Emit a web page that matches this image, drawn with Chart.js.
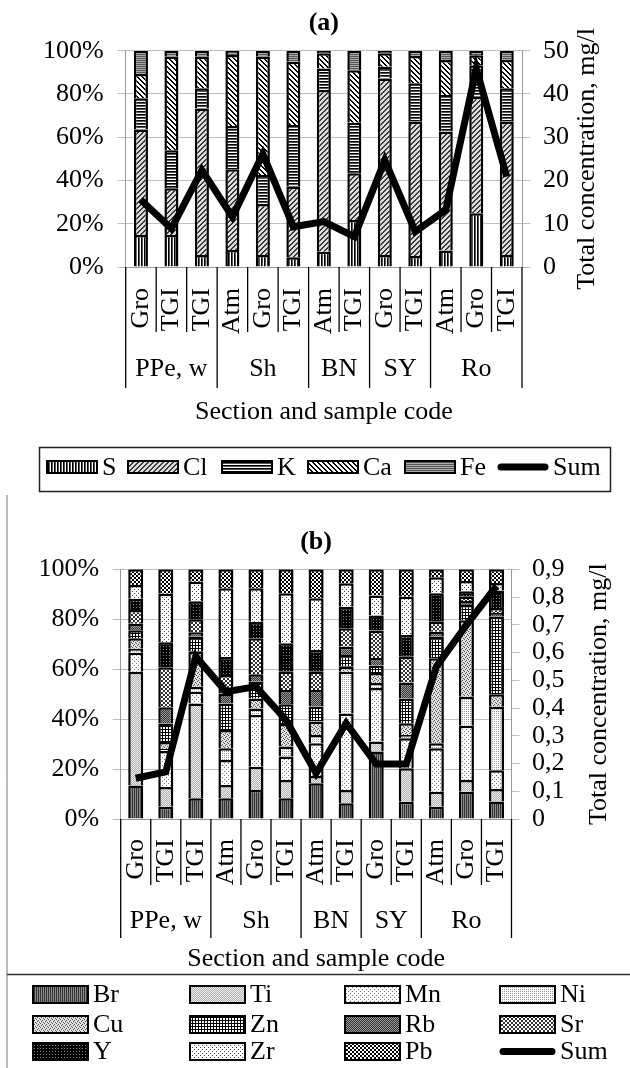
<!DOCTYPE html>
<html><head><meta charset="utf-8">
<script src="https://cdn.jsdelivr.net/npm/chart.js@4.4.1/dist/chart.umd.min.js"></script>
<style>
html,body{margin:0;padding:0;background:#fff;}
#wrap{position:relative;width:630px;height:1068px;background:#fff;}
canvas{position:absolute;left:0;}
</style></head><body>
<div id="wrap">
<canvas id="ca" width="630" height="495" style="top:0"></canvas>
<canvas id="cb" width="630" height="573" style="top:495px"></canvas>
</div>
<script>
// ---------- categories ----------
const sampleCodes = ['Gro','TGI','TGI','Atm','Gro','TGI','Atm','TGI','Gro','TGI','Atm','Gro','TGI'];
const sectionLabels = ['PPe, w','Sh','BN','SY','Ro'];
const sectionSizes = [3,3,2,2,3];

// ---------- panel (a): shares, % ----------
const S_  = [14.8,14.8, 5.5, 7.9, 5.5, 4.5, 7.1,21.7, 5.5, 5.1, 7.6,24.8, 5.5];
const Cl_ = [48.8,21.6,67.8,37.3,23.6,32.6,74.7,21.6,81.7,62.1,55.0,53.9,61.6];
const K_  = [14.4,17.6, 9.3,20.0,13.4,28.5,10.0,23.4, 5.4,17.7,16.9,14.6,15.5];
const Ca_ = [11.2,43.2,14.6,32.8,54.7,29.3, 7.0,24.3, 6.2,12.6,16.2, 4.6,13.1];
const Fe_ = [10.8, 2.8, 2.8, 2.0, 2.8, 5.1, 1.2, 9.0, 1.2, 2.5, 4.3, 2.1, 4.3];
const sumA = [15.5, 8.9,22.4,11.6,26.1, 9.3,10.5, 7.0,24.7, 8.2,13.2,45.9,20.9]; // mg/l

// ---------- panel (b): shares, % ----------
const Br_ = [13.4, 4.9, 8.3, 8.3,11.6, 8.3,14.3, 6.3,27.0, 6.9, 4.9,10.9, 7.0];
const Ti_ = [45.6, 7.9,38.0, 5.3, 9.3, 7.3, 2.9, 5.3, 4.0,13.4, 6.0, 4.7, 5.0];
const Mn_ = [ 7.6,14.4, 4.7,10.0,20.7, 9.4,13.1,30.7,21.5,12.0,17.4,21.7, 7.5];
const Ni_ = [ 1.6, 0.8, 2.0, 4.7, 2.7, 4.0, 3.3,16.7, 2.0, 1.3, 2.0,11.7,25.5];
const Cu_ = [ 4.2, 2.8,14.0, 7.3, 4.0, 9.0, 5.4, 2.0, 4.0, 4.7,34.1,30.6, 5.0];
const Zn_ = [ 3.2, 7.4, 6.0,10.7, 6.7, 8.0, 6.1, 4.7, 3.0,10.0, 8.6, 6.1,31.0];
const Rb_ = [ 2.6, 6.6, 1.8, 4.0, 3.0, 5.7, 6.6, 3.3, 3.0, 6.4, 2.0, 1.6, 1.5];
const Sr_ = [ 5.5,16.0, 5.2, 7.4,14.4, 7.3, 7.3, 7.4,11.0,10.3, 4.0, 1.7, 2.0];
const Y_  = [ 4.5,10.0, 7.2, 7.2, 6.6,11.4, 8.7, 8.6, 6.0, 8.7,11.4, 2.2, 7.0];
const Zr_ = [ 5.5,19.4, 7.8,27.5,13.4,20.0,20.7, 9.4, 8.0,15.3, 6.4, 4.1, 3.0];
const Pb_ = [ 6.3, 9.8, 5.0, 7.6, 7.6, 9.6,11.6, 5.6,10.5,11.0, 3.2, 4.7, 5.5];
const sumB = [0.147,0.17,0.585,0.459,0.477,0.357,0.165,0.345,0.198,0.198,0.549,0.699,0.84]; // mg/l

const FONT = "'Liberation Serif','Times New Roman',serif";
Chart.defaults.font.family = FONT;
Chart.defaults.color = '#000';

// ---------- patterns ----------
function mk(w,h,bg,pix){
  const c=document.createElement('canvas'); c.width=w; c.height=h;
  const g=c.getContext('2d'); g.fillStyle=bg; g.fillRect(0,0,w,h);
  pix.forEach(p=>{g.fillStyle=p[2]; g.fillRect(p[0],p[1],1,1);});
  return g.createPattern(c,'repeat');
}
function diag(n, fwd, col){ const a=[]; for(let i=0;i<n;i++){ const y = fwd? n-1-i : i; a.push([i,y,col]); a.push([(i+1)%n,y,col]); } return a; }
const P = {
  S: mk(3,1,'#fff',[[0,0,'#000'],[1,0,'#555']]),
  Cl: mk(5,5,'#dcdcdc',diag(5,true,'#3a3a3a')),
  K: mk(1,3,'#fff',[[0,0,'#000'],[0,1,'#555']]),
  Ca: mk(5,5,'#fff',diag(5,false,'#000')),
  Fe: mk(1,2,'#aaa',[[0,0,'#555']]),
  Br: mk(2,1,'#888',[[0,0,'#333']]),
  Ti: mk(2,2,'#eee',[[0,0,'#b0b0b0'],[1,1,'#b0b0b0']]),
  Mn: mk(4,4,'#fff',[[0,0,'#777'],[2,2,'#777']]),
  Ni: mk(2,2,'#fff',[[0,0,'#9a9a9a']]),
  Cu: mk(4,4,'#e0e0e0',[[0,0,'#555'],[2,1,'#555'],[1,2,'#555'],[3,3,'#555']]),
  Zn: mk(3,3,'#fff',[[0,0,'#000'],[1,0,'#000'],[2,0,'#000'],[0,1,'#000'],[0,2,'#000']]),
  Rb: mk(2,2,'#999',[[0,0,'#333'],[1,1,'#333']]),
  Sr: mk(4,4,'#fff',[[0,0,'#333'],[1,1,'#333'],[2,2,'#333'],[3,3,'#333'],[0,3,'#333'],[1,2,'#333'],[2,1,'#333'],[3,0,'#333']]),
  Y: mk(3,3,'#000',[[1,1,'#888']]),
  Zr: mk(4,4,'#fff',[[0,0,'#444'],[2,2,'#444']]),
  Pb: mk(4,4,'#fff',[[0,0,'#000'],[1,0,'#000'],[0,1,'#000'],[1,1,'#000'],[2,2,'#000'],[3,2,'#000'],[2,3,'#000'],[3,3,'#000']])
};

function barDs(label, data, bp){
  return {type:'bar', label, data, backgroundColor:P[label], borderColor:'#000', borderWidth:2.5,
          borderSkipped:'start', yAxisID:'y', order:1, barPercentage:bp, categoryPercentage:1};
}
function lineDs(data){
  return {type:'line', label:'Sum', data, yAxisID:'y1', borderColor:'#000', borderWidth:7,
          pointRadius:0, fill:false, tension:0, order:0, borderJoinStyle:'miter', borderCapStyle:'butt'};
}

// ---------- custom axis / legend plugin ----------
const decor = {
  id:'decor',
  afterDraw(chart, args, o){
    const ctx=chart.ctx, xs=chart.scales.x, n=sampleCodes.length, y0=xs.top;
    const b=[];
    for(let i=0;i<=n;i++){
      if(i===0) b.push(xs.left); else if(i===n) b.push(xs.right);
      else b.push((xs.getPixelForValue(i-1)+xs.getPixelForValue(i))/2);
    }
    const gs=new Set([0]); let k=0; sectionSizes.forEach(s=>{k+=s; gs.add(k);});
    ctx.save();
    ctx.strokeStyle='#000'; ctx.lineWidth=1.3;
    b.forEach((bx,i)=>{ ctx.beginPath(); ctx.moveTo(bx,y0); ctx.lineTo(bx,y0+(gs.has(i)?o.longEnd:o.shortEnd)); ctx.stroke(); });
    ctx.fillStyle='#000'; ctx.font='26px '+FONT;
    sampleCodes.forEach((c,i)=>{
      ctx.save(); ctx.translate(xs.getPixelForValue(i), y0+o.labelTop); ctx.rotate(-Math.PI/2);
      ctx.textAlign='right'; ctx.textBaseline='middle'; ctx.fillText(c,0,0); ctx.restore();
    });
    ctx.textAlign='center'; ctx.textBaseline='middle';
    k=0; sectionLabels.forEach((g,j)=>{ const a=b[k], e=b[k+sectionSizes[j]]; k+=sectionSizes[j]; ctx.fillText(g,(a+e)/2,y0+o.groupY); });
    ctx.fillText('Section and sample code',(xs.left+xs.right)/2,y0+o.titleY);
    // right axis title
    ctx.save(); ctx.translate(o.rtX, (chart.chartArea.top+chart.chartArea.bottom)/2); ctx.rotate(-Math.PI/2);
    ctx.fillText('Total concentration, mg/l',0,0); ctx.restore();
    // panel title
    ctx.font='bold 26px '+FONT;
    ctx.fillText(o.title,(xs.left+xs.right)/2,o.titleTop);
    // frame lines
    (o.frame||[]).forEach(l=>{ ctx.strokeStyle=l[4]; ctx.lineWidth=l[5]; ctx.beginPath(); ctx.moveTo(l[0],l[1]); ctx.lineTo(l[2],l[3]); ctx.stroke(); });
    if(o.box){ ctx.strokeStyle='#222'; ctx.lineWidth=1.5; ctx.strokeRect(o.box[0],o.box[1],o.box[2],o.box[3]); }
    // legend items
    ctx.font='26px '+FONT; ctx.textAlign='left'; ctx.textBaseline='middle';
    const ds=chart.data.datasets;
    o.items.forEach((it,i)=>{
      const d=ds[i];
      if(d.type==='line'){
        ctx.strokeStyle='#000'; ctx.lineWidth=7; ctx.lineCap='round';
        ctx.beginPath(); ctx.moveTo(it[0]+3,it[1]); ctx.lineTo(it[0]+o.sw-3,it[1]); ctx.stroke(); ctx.lineCap='butt';
      } else {
        ctx.fillStyle=d.backgroundColor; ctx.fillRect(it[0],it[1]-o.sh/2,o.sw,o.sh);
        ctx.strokeStyle='#000'; ctx.lineWidth=2; ctx.strokeRect(it[0],it[1]-o.sh/2,o.sw,o.sh);
      }
      ctx.fillStyle='#000'; ctx.fillText(d.label,it[0]+o.sw+5,it[1]+1);
    });
    ctx.restore();
  }
};

function makeChart(id, datasets, yMax1, step1, fmt1, dims, deco){
  return new Chart(document.getElementById(id), {
    data:{labels:sampleCodes, datasets},
    options:{
      responsive:false, animation:false, devicePixelRatio:1,
      layout:{padding:{top:dims.top,left:0,right:0,bottom:0}},
      plugins:{legend:{display:false}, tooltip:{enabled:false}, decor:deco},
      scales:{
        x:{stacked:true, ticks:{display:false}, grid:{display:false}, border:{color:'#999'},
           afterFit:s=>{s.height=dims.xh;}},
        y:{position:'left', stacked:true, min:0, max:100,
           ticks:{stepSize:20, autoSkip:false, callback:v=>v+'%', font:{size:26}, color:'#000', padding:dims.lp},
           grid:{color:'#c0c0c0', tickLength:8, lineWidth:1}, border:{color:'#999'},
           afterFit:s=>{s.width=dims.lw;}},
        y1:{position:'right', min:0, max:yMax1,
           ticks:{stepSize:step1, autoSkip:false, callback:fmt1, font:{size:26}, color:'#000', padding:dims.rp},
           grid:{drawOnChartArea:false, color:'#c0c0c0', tickLength:8}, border:{color:'#999'},
           afterFit:s=>{s.width=dims.rw;}}
      }
    },
    plugins:[decor]
  });
}

// panel (a)
const dsA = [barDs('S',S_,0.46), barDs('Cl',Cl_,0.46), barDs('K',K_,0.46), barDs('Ca',Ca_,0.46), barDs('Fe',Fe_,0.46), lineDs(sumA)];
makeChart('ca', dsA, 50, 10, v=>String(v),
  {top:50.7, xh:228, lw:125.7, rw:108, lp:14, rp:13},
  {labelTop:21, shortEnd:65, longEnd:121, groupY:102, titleY:145, rtX:587, title:'(a)', titleTop:23,
   box:[39.5,447.5,571,44], sw:50, sh:12,
   items:[[47,467],[128,467],[222,467],[308,467],[405,467],[498,467]]});

// panel (b)
const dsB = [barDs('Br',Br_,0.5), barDs('Ti',Ti_,0.5), barDs('Mn',Mn_,0.5), barDs('Ni',Ni_,0.5),
             barDs('Cu',Cu_,0.5), barDs('Zn',Zn_,0.5), barDs('Rb',Rb_,0.5), barDs('Sr',Sr_,0.5),
             barDs('Y',Y_,0.5), barDs('Zr',Zr_,0.5), barDs('Pb',Pb_,0.5), lineDs(sumB)];
const bx=[33,190,345,500], by=[499.5,529.5,556.5];
makeChart('cb', dsB, 0.9, 0.1, v=> v===0 ? '0' : v.toFixed(1).replace('.',','),
  {top:74.3, xh:249, lw:120.7, rw:118.5, lp:13.5, rp:12.5},
  {labelTop:20, shortEnd:66, longEnd:119, groupY:102, titleY:140, rtX:599, title:'(b)', titleTop:47,
   frame:[[7,0,7,573,'#777',1],[7,479.5,630,479.5,'#333',1.5]], sw:55, sh:17,
   items:[[bx[0],by[0]],[bx[1],by[0]],[bx[2],by[0]],[bx[3],by[0]],
          [bx[0],by[1]],[bx[1],by[1]],[bx[2],by[1]],[bx[3],by[1]],
          [bx[0],by[2]],[bx[1],by[2]],[bx[2],by[2]],[bx[3],by[2]]]});
</script>
</body></html>
